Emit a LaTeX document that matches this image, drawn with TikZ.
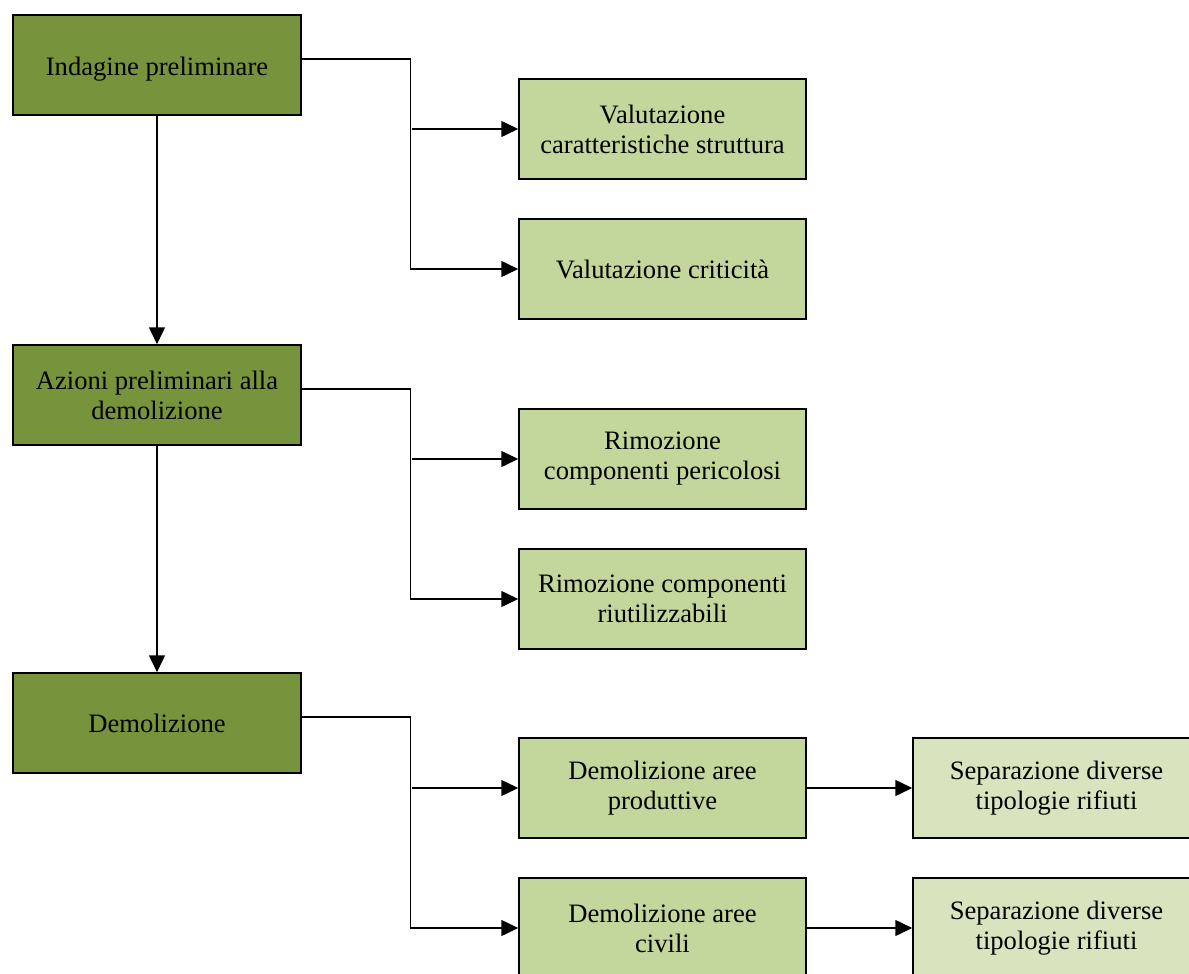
\documentclass[tikz,border=0pt]{standalone}
\usepackage{fontspec}
\setmainfont{Liberation Serif}
\usetikzlibrary{arrows.meta}
\definecolor{darkgr}{HTML}{77933C}
\definecolor{midgr}{HTML}{C3D69B}
\definecolor{lightgr}{HTML}{D7E4BD}
\tikzset{
  box/.style={draw=black, line width=1.5pt, minimum width=288pt, minimum height=100pt,
    align=center, inner sep=0pt, font=\fontsize{26.6}{30}\selectfont},
  mainbox/.style={box, fill=darkgr},
  subbox/.style={box, fill=midgr, minimum width=287pt},
  sepbox/.style={box, fill=lightgr, minimum width=287pt},
  conn/.style={line width=1.5pt},
  arr/.style={conn, -{Triangle[length=17pt,width=16pt]}}
}
\begin{document}
\begin{tikzpicture}[x=1pt,y=-1pt]
\useasboundingbox (0,0) rectangle (1189,974);
\clip (0,0) rectangle (1189,974);
\node[mainbox] (ind) at (157,65) {\raisebox{-4pt}[\height][\depth]{Indagine preliminare}};
\node[mainbox] (az) at (157,395) {Azioni preliminari alla\\demolizione};
\node[mainbox] (dem) at (157,723) {Demolizione};
\node[subbox] (vc) at (662.5,129) {Valutazione\\caratteristiche struttura};
\node[subbox] (vcr) at (662.5,269) {Valutazione criticità};
\node[subbox] (rp) at (662.5,459) {Rimozione\\componenti pericolosi};
\node[subbox] (rr) at (662.5,599) {Rimozione componenti\\riutilizzabili};
\node[subbox] (dp) at (662.5,788) {Demolizione aree\\produttive};
\node[subbox] (dc) at (662.5,928) {Demolizione aree\\civili};
\node[sepbox] (s1) at (1056.5,788) {Separazione diverse\\tipologie rifiuti};
\node[sepbox] (s2) at (1056.5,928) {Separazione diverse\\tipologie rifiuti};
\draw[arr] (ind.south) -- (az.north);
\draw[arr] (az.south) -- (dem.north);
\draw[arr] ([yshift=6pt]ind.east) -| ([xshift=-108pt]vcr.west) -- (vcr.west);
\draw[arr] ([xshift=-106pt]vc.west) -- (vc.west);
\draw[arr] ([yshift=6pt]az.east) -| ([xshift=-108pt]rr.west) -- (rr.west);
\draw[arr] ([xshift=-106pt]rp.west) -- (rp.west);
\draw[arr] ([yshift=6pt]dem.east) -| ([xshift=-108pt]dc.west) -- (dc.west);
\draw[arr] ([xshift=-106pt]dp.west) -- (dp.west);
\draw[arr] (dp.east) -- (s1.west);
\draw[arr] (dc.east) -- (s2.west);
\end{tikzpicture}
\end{document}
